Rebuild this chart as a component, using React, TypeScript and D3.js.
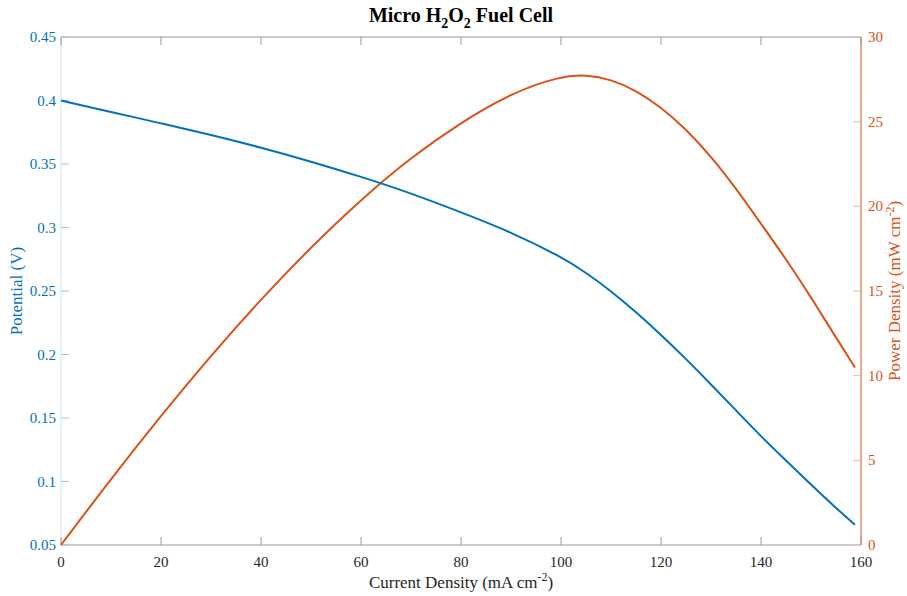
import React from "react";
import * as d3 from "d3";

const currentDensity = [0, 10, 20, 30, 40, 50, 60, 70, 80, 90, 100, 105, 110, 115, 120, 125, 130, 135, 140, 145, 150, 155, 158.8];
const potential = [0.4, 0.391, 0.382, 0.373, 0.363, 0.352, 0.34, 0.327, 0.312, 0.2965, 0.277, 0.2645, 0.25, 0.2335, 0.2155, 0.1965, 0.1765, 0.156, 0.1355, 0.1165, 0.0975, 0.079, 0.066];
const powerDensity = [0, 3.91, 7.64, 11.19, 14.52, 17.6, 20.4, 22.89, 24.96, 26.69, 27.7, 27.77, 27.5, 26.85, 25.86, 24.56, 22.95, 21.06, 18.97, 16.89, 14.63, 12.25, 10.48];
const xTicks = [0, 20, 40, 60, 80, 100, 120, 140, 160];
const leftTicks = [0.05, 0.1, 0.15, 0.2, 0.25, 0.3, 0.35, 0.4, 0.45];
const rightTicks = [0, 5, 10, 15, 20, 25, 30];

const W = 907, H = 596;
const L = 61, R = 861, T = 37, B = 545;
const BLUE = "#0072BD";
const ORANGE = "#D95319";
const FONT = "'Liberation Serif', 'Times New Roman', serif";

export default function App() {
  const x = d3.scaleLinear().domain([0, 160]).range([L, R]);
  const yL = d3.scaleLinear().domain([0.05, 0.45]).range([B, T]);
  const yR = d3.scaleLinear().domain([0, 30]).range([B, T]);
  const idx = currentDensity.map((_, i) => i);
  const lineV = d3.line<number>().x(i => x(currentDensity[i])).y(i => yL(potential[i])).curve(d3.curveBasis);
  const lineP = d3.line<number>().x(i => x(currentDensity[i])).y(i => yR(powerDensity[i])).curve(d3.curveBasis);
  const tick = 8;
  const grey = "#9a9a9a";
  return (
    <svg width={W} height={H} style={{ position: "absolute", left: 0, top: 0, background: "#fff" }} fontFamily={FONT}>
      <rect x={0} y={0} width={W} height={H} fill="#fff" />
      <line x1={L} x2={R} y1={T} y2={T} stroke={grey} strokeWidth={1} />
      <line x1={L} x2={R} y1={B} y2={B} stroke={grey} strokeWidth={1} />
      <line x1={L} x2={L} y1={T} y2={B} stroke="#cfe3f2" strokeWidth={1} />
      <line x1={R} x2={R} y1={T} y2={B} stroke={ORANGE} strokeWidth={1} />
      {xTicks.map(t => (
        <g key={"x" + t}>
          <line x1={x(t)} x2={x(t)} y1={B} y2={B - tick} stroke={grey} />
          <line x1={x(t)} x2={x(t)} y1={T} y2={T + tick} stroke={grey} />
          <text x={x(t)} y={B + 22} textAnchor="middle" fontSize={15} fill="#262626">{t}</text>
        </g>
      ))}
      {leftTicks.map(t => (
        <g key={"l" + t}>
          <line x1={L} x2={L + tick} y1={yL(t)} y2={yL(t)} stroke="#9cc6e4" />
          <text x={L - 5} y={yL(t) + 5} textAnchor="end" fontSize={15} fill={BLUE}>{String(+t.toFixed(2))}</text>
        </g>
      ))}
      {rightTicks.map(t => (
        <g key={"r" + t}>
          <line x1={R} x2={R - tick} y1={yR(t)} y2={yR(t)} stroke="#f0b9a0" />
          <text x={R + 7} y={yR(t) + 5} textAnchor="start" fontSize={15} fill={ORANGE}>{t}</text>
        </g>
      ))}
      <path d={lineP(idx) || ""} fill="none" stroke={ORANGE} strokeWidth={2} />
      <path d={lineV(idx) || ""} fill="none" stroke={BLUE} strokeWidth={2} />
      <text x={(L + R) / 2} y={22} textAnchor="middle" fontSize={20} fontWeight="bold" fill="#000">
        Micro H<tspan fontSize={14} dy={6}>2</tspan><tspan dy={-6}>O</tspan><tspan fontSize={14} dy={6}>2</tspan><tspan dy={-6}> Fuel Cell</tspan>
      </text>
      <text x={(L + R) / 2} y={588} textAnchor="middle" fontSize={17} fill="#262626">
        Current Density (mA cm<tspan fontSize={12} dy={-7}>-2</tspan><tspan dy={7}>)</tspan>
      </text>
      <text transform={`translate(22, ${(T + B) / 2}) rotate(-90)`} textAnchor="middle" fontSize={17} fill={BLUE}>
        Potential (V)
      </text>
      <text transform={`translate(900, ${(T + B) / 2}) rotate(-90)`} textAnchor="middle" fontSize={17} fill={ORANGE}>
        Power Density (mW cm<tspan fontSize={12} dy={-6}>-2</tspan><tspan dy={6}>)</tspan>
      </text>
    </svg>
  );
}
